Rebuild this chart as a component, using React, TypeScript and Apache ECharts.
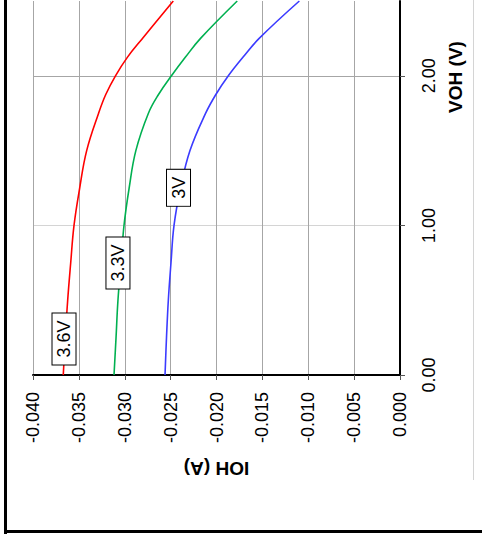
import React, { useEffect, useRef } from "react";
import * as echarts from "echarts";

const vohTicks = [0, 1, 2];

// VOH sample points shared by all three curves
const voh = [0, 0.25, 0.5, 0.75, 1.0, 1.25, 1.5, 1.75, 1.875, 2.0, 2.125, 2.25, 2.5];

const ioh36 = [-0.0367, -0.03648, -0.03622, -0.03589, -0.03553, -0.03491, -0.03415, -0.03285, -0.03207, -0.03101, -0.0297, -0.02807, -0.02471];
const ioh33 = [-0.03117, -0.03095, -0.03074, -0.03041, -0.03008, -0.02952, -0.02879, -0.02742, -0.02632, -0.02491, -0.02338, -0.02174, -0.01774];
const ioh30 = [-0.02561, -0.02545, -0.02525, -0.02496, -0.02463, -0.02392, -0.02289, -0.02118, -0.02007, -0.01871, -0.0171, -0.01535, -0.01097];

const seriesNames = ["3.6V", "3.3V", "3V"];
const seriesColors = ["#ff0000", "#00b050", "#3b3bff"];
// label anchor points (IOH, VOH)
const labelIoh = [-0.03662, -0.03074, -0.02414];
const labelVoh = [0.241, 0.749, 1.251];

const FONT = "'Liberation Sans', Arial, sans-serif";

export default function App() {
  const ref = useRef<HTMLDivElement>(null);
  useEffect(() => {
    if (!ref.current) return;
    const chart = echarts.init(ref.current, null, { renderer: "svg" });
    const sets = [ioh36, ioh33, ioh30];
    const series = sets.map((xs, i) => ({
      type: "line",
      name: seriesNames[i],
      data: xs.map((x, j) => [x, voh[j]]),
      smooth: 0.4,
      showSymbol: false,
      symbol: "none",
      clip: true,
      lineStyle: { color: seriesColors[i], width: 1.6 },
      z: 3,
      markPoint: {
        symbol: "rect",
        symbolSize: 1,
        itemStyle: { color: "rgba(0,0,0,0)" },
        z: 10,
        data: [
          {
            coord: [labelIoh[i], labelVoh[i]],
            label: {
              show: true,
              position: "inside",
              formatter: seriesNames[i],
              rotate: 90,
              color: "#000",
              fontSize: 18,
              fontFamily: FONT,
              backgroundColor: "#fff",
              borderColor: "#000",
              borderWidth: 1,
              padding: [3, 7, 2, 7],
              lineHeight: 18,
            },
          },
        ],
      },
    }));
    chart.setOption({
      animation: false,
      backgroundColor: "#fff",
      grid: { left: 33, right: 82, top: 1, bottom: 168, containLabel: false },
      xAxis: {
        type: "value",
        min: -0.04,
        max: 0,
        interval: 0.005,
        axisLine: { show: true, onZero: false, lineStyle: { color: "#000", width: 2 } },
        axisTick: { show: true, length: 5, lineStyle: { color: "#555", width: 1 } },
        axisLabel: {
          rotate: 90,
          margin: 17,
          fontSize: 18,
          fontFamily: FONT,
          color: "#000",
          formatter: (v: number) => v.toFixed(3),
        },
        splitLine: { show: true, lineStyle: { color: "#a6a6a6", width: 1 } },
      },
      yAxis: {
        type: "value",
        position: "right",
        min: 0,
        max: 2.5,
        interval: 0.5,
        axisLine: { show: true, onZero: false, lineStyle: { color: "#000", width: 2 } },
        axisTick: { show: true, length: 5, customValues: vohTicks, lineStyle: { color: "#555", width: 1 } },
        axisLabel: {
          customValues: vohTicks,
          rotate: 90,
          margin: 20,
          fontSize: 18,
          fontFamily: FONT,
          color: "#000",
          formatter: (v: number) => v.toFixed(2),
        },
        splitLine: { show: true, lineStyle: { color: ["#a6a6a6", "#d4d4d4"], width: 1 } },
      },
      graphic: [
        { type: "rect", shape: { x: 4, y: 0, width: 3, height: 534 }, style: { fill: "#000" }, silent: true },
        { type: "rect", shape: { x: 4, y: 530, width: 478, height: 3 }, style: { fill: "#000" }, silent: true },
        { type: "rect", shape: { x: 473, y: 0, width: 1, height: 480 }, style: { fill: "#d4d4d4" }, silent: true },
        {
          type: "text",
          x: 455,
          y: 77,
          rotation: Math.PI / 2,
          style: {
            text: "VOH (V)",
            font: `bold 19px ${FONT}`,
            fill: "#000",
            align: "center",
            verticalAlign: "middle",
          },
        },
        {
          type: "text",
          x: 216.5,
          y: 468,
          rotation: Math.PI,
          style: {
            text: "IOH (A)",
            font: `bold 19px ${FONT}`,
            fill: "#000",
            align: "center",
            verticalAlign: "middle",
          },
        },
      ],
      series,
    });
    return () => chart.dispose();
  }, []);
  return (
    <div
      ref={ref}
      style={{ position: "fixed", left: 0, top: 0, width: 482, height: 543, background: "#fff" }}
    />
  );
}
